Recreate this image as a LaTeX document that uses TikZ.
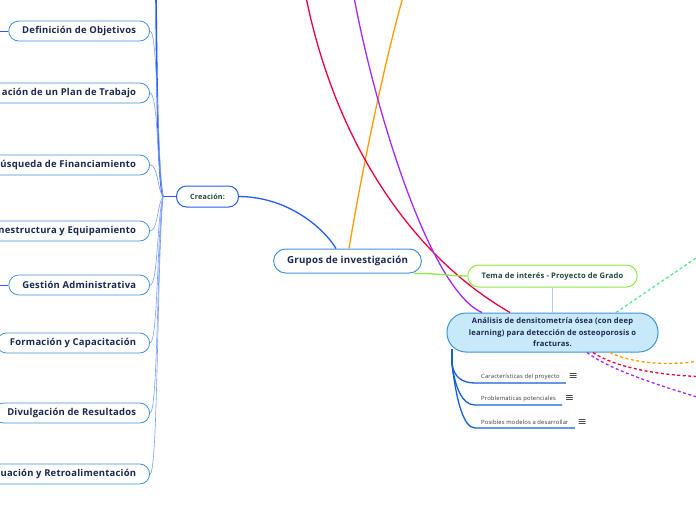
\documentclass[tikz,border=0pt]{standalone}
\usepackage{fontspec}
\setmainfont{Open Sans}[LetterSpace=2.5]
\newfontfamily\iconfont{DejaVu Sans}
\usetikzlibrary{positioning}
\definecolor{MapBlue}{RGB}{38,92,245}
\definecolor{TopicLine}{RGB}{66,146,214}
\definecolor{TopicText}{RGB}{26,40,80}
\definecolor{LeafText}{RGB}{30,72,58}
\definecolor{BranchBlue}{RGB}{120,156,250}
\definecolor{LimeLine}{RGB}{140,232,70}
\definecolor{StemBlue}{RGB}{178,200,240}
\definecolor{CoreFill}{RGB}{200,233,250}
\definecolor{LinkOrange}{RGB}{255,155,0}
\definecolor{LinkRed}{RGB}{232,0,62}
\definecolor{LinkPurple}{RGB}{163,40,255}
\definecolor{LinkGreen}{RGB}{90,230,140}
\definecolor{SubBlue}{RGB}{22,96,214}
\definecolor{SubText}{RGB}{55,55,60}

\begin{document}
\begin{tikzpicture}[
      x=1pt, y=-1pt,
      topic/.style={draw=TopicLine, fill=white, rounded corners=10pt, line width=0.8pt,
                    minimum height=20pt, inner xsep=13.5pt, inner ysep=0pt, anchor=east,
                    text=TopicText, font=\fontsize{9.45}{11}\selectfont\bfseries},
      hub/.style={draw=MapBlue, fill=white, rounded corners=10pt, line width=1pt,
                  minimum height=21pt, inner xsep=13.5pt, inner ysep=0pt,
                  text=LeafText, font=\fontsize{7.2}{8.5}\selectfont\bfseries},
      group/.style={draw=TopicLine, fill=white, rounded corners=12pt, line width=1pt,
                    minimum height=24pt, inner xsep=13.5pt, inner ysep=0pt,
                    text=TopicText, font=\fontsize{9.7}{11.5}\selectfont\bfseries},
      leaf/.style={draw=LimeLine, fill=white, rounded corners=11pt, line width=1pt,
                   minimum height=22pt, inner xsep=14pt, inner ysep=0pt,
                   text=LeafText, font=\fontsize{7.6}{9}\selectfont\bfseries},
      core/.style={draw=TopicLine, fill=CoreFill, rounded corners=19pt, line width=1pt,
                   minimum height=39pt, minimum width=211pt, inner ysep=2pt, align=center,
                   text=TopicText, font=\fontsize{7.6}{11.5}\selectfont\bfseries},
      subitem/.style={anchor=south west, inner xsep=6pt, inner ysep=3pt,
                      text=SubText, font=\fontsize{5.85}{7}\selectfont},
      menu/.style={inner sep=0pt, text=SubText, font=\iconfont\fontsize{11}{11}\selectfont},
      branch/.style={BranchBlue, line width=0.6pt},
      trunk/.style={MapBlue, line width=1.6pt},
      feed/.style={MapBlue, line width=1pt},
      link/.style={line width=1.3pt},
      dotlink/.style={line width=1.3pt, dash pattern=on 3pt off 2.5pt},
      subline/.style={SubBlue, line width=1.3pt},
    ]
      \useasboundingbox (0,0) rectangle (696,520);
      \clip (0,0) rectangle (696,520);

      \node[topic] (goals) at (150,31) {Definición de Objetivos};
      \node[topic] (plan) at (150,93) {ación de un Plan de Trabajo};
      \node[topic] (funding) at (150,165) {úsqueda de Financiamiento};
      \node[topic] (infra) at (150,231) {nestructura y Equipamiento};
      \node[topic] (admin) at (150,285) {Gestión Administrativa};
      \node[topic] (training) at (150,343) {Formación y Capacitación};
      \node[topic] (outreach) at (150,413) {Divulgación de Resultados};
      \node[topic] (review) at (150,474) {uación y Retroalimentación};

      \node[hub] (creation) at (207.5,196.5) {Creación:};
      \coordinate (fork) at (163,196.5);
      \coordinate (top) at (156,-3);
      \coordinate (goalsin) at (-5,31);
      \coordinate (adminin) at (-5,285);

      \draw[feed] (goalsin) -- (goals.west);
      \draw[feed] (adminin) -- (admin.west);
      \draw[trunk] (top) .. controls (157,120) and (159,185) .. (fork);
      \draw[trunk] (fork) -- (creation.west);
      \draw[branch] (goals.east) .. controls (158,31) and (157,155) .. (fork);
      \draw[branch] (plan.east) .. controls (158,93) and (157,170) .. (fork);
      \draw[branch] (funding.east) .. controls (158,165) and (157,188) .. (fork);
      \draw[branch] (infra.east) .. controls (158,231) and (157,205) .. (fork);
      \draw[branch] (admin.east) .. controls (158,285) and (157,218) .. (fork);
      \draw[branch] (training.east) .. controls (158,343) and (157,233) .. (fork);
      \draw[branch] (outreach.east) .. controls (158,413) and (157,250) .. (fork);
      \draw[branch] (review.east) .. controls (158,474) and (157,265) .. (fork);

      \node[group] (groups) at (347.5,261) {Grupos de investigación};
      \node[leaf] (interest) at (552.5,276) {Tema de interés - Proyecto de Grado};
      \node[core] (core) at (552.5,332.5)
        {Análisis de densitometría ósea (con deep\\learning) para detección de osteoporosis o\\fracturas.};

      \coordinate (orangeend) at (403,-3);
      \coordinate (redend) at (306,-3);
      \coordinate (purpleend) at (354,-3);
      \coordinate (greenend) at (702,254);
      \coordinate (orangeout) at (720,356);
      \coordinate (redout) at (720,377);
      \coordinate (purpleout) at (720,404);

      \draw[link, MapBlue] (creation.east) .. controls (290,197) and (325,230) .. ([xshift=-11.5pt]groups.north);
      \draw[link, LinkOrange] ([xshift=1.5pt]groups.north) .. controls (362,170) and (385,60) .. (orangeend);
      \draw[link, LinkRed] (redend) .. controls (335,140) and (410,255) .. ([xshift=-42.5pt]core.north);
      \draw[link, LinkPurple] (purpleend) .. controls (375,110) and (430,290) .. ([xshift=-70.5pt]core.north);
      \draw[link, LimeLine] ([xshift=-8pt]groups.south east) .. controls (435,273) and (450,276) .. (interest.west);
      \draw[link, StemBlue] (interest.south) -- (core.north);

      \draw[dotlink, LinkGreen] ([xshift=63.5pt]core.north) -- (greenend);
      \draw[dotlink, LinkOrange] ([xshift=57.5pt]core.south) .. controls (640,367) and (690,366) .. (orangeout);
      \draw[dotlink, LinkRed] ([xshift=40.5pt]core.south) .. controls (620,370) and (670,377) .. (redout);
      \draw[dotlink, LinkPurple] ([xshift=34.5pt]core.south) .. controls (610,370) and (660,386) .. (purpleout);

      \node[subitem] (features) at (475,383) {Características del proyecto};
      \node[subitem] (risks) at (475,405) {Problematicas potenciales};
      \node[subitem] (models) at (475,428) {Posibles modelos a desarrollar};
      \node[menu, right=2.5pt of features] (featuresmenu) {≡};
      \node[menu, right=2.5pt of risks] (risksmenu) {≡};
      \node[menu, right=2.5pt of models] (modelsmenu) {≡};

      \coordinate (spine) at (452,364);
      \draw[subline] ([xshift=-100.5pt, yshift=4pt]core.south) -- (spine);
      \draw[subline] (spine) .. controls (454,377) and (462,383) .. (features.south west) -- (features.south east);
      \draw[subline] (spine) .. controls (455,387) and (462,405) .. (risks.south west) -- (risks.south east);
      \draw[subline] (spine) .. controls (456,398) and (463,428) .. (models.south west) -- (models.south east);
    \end{tikzpicture}
\end{document}
